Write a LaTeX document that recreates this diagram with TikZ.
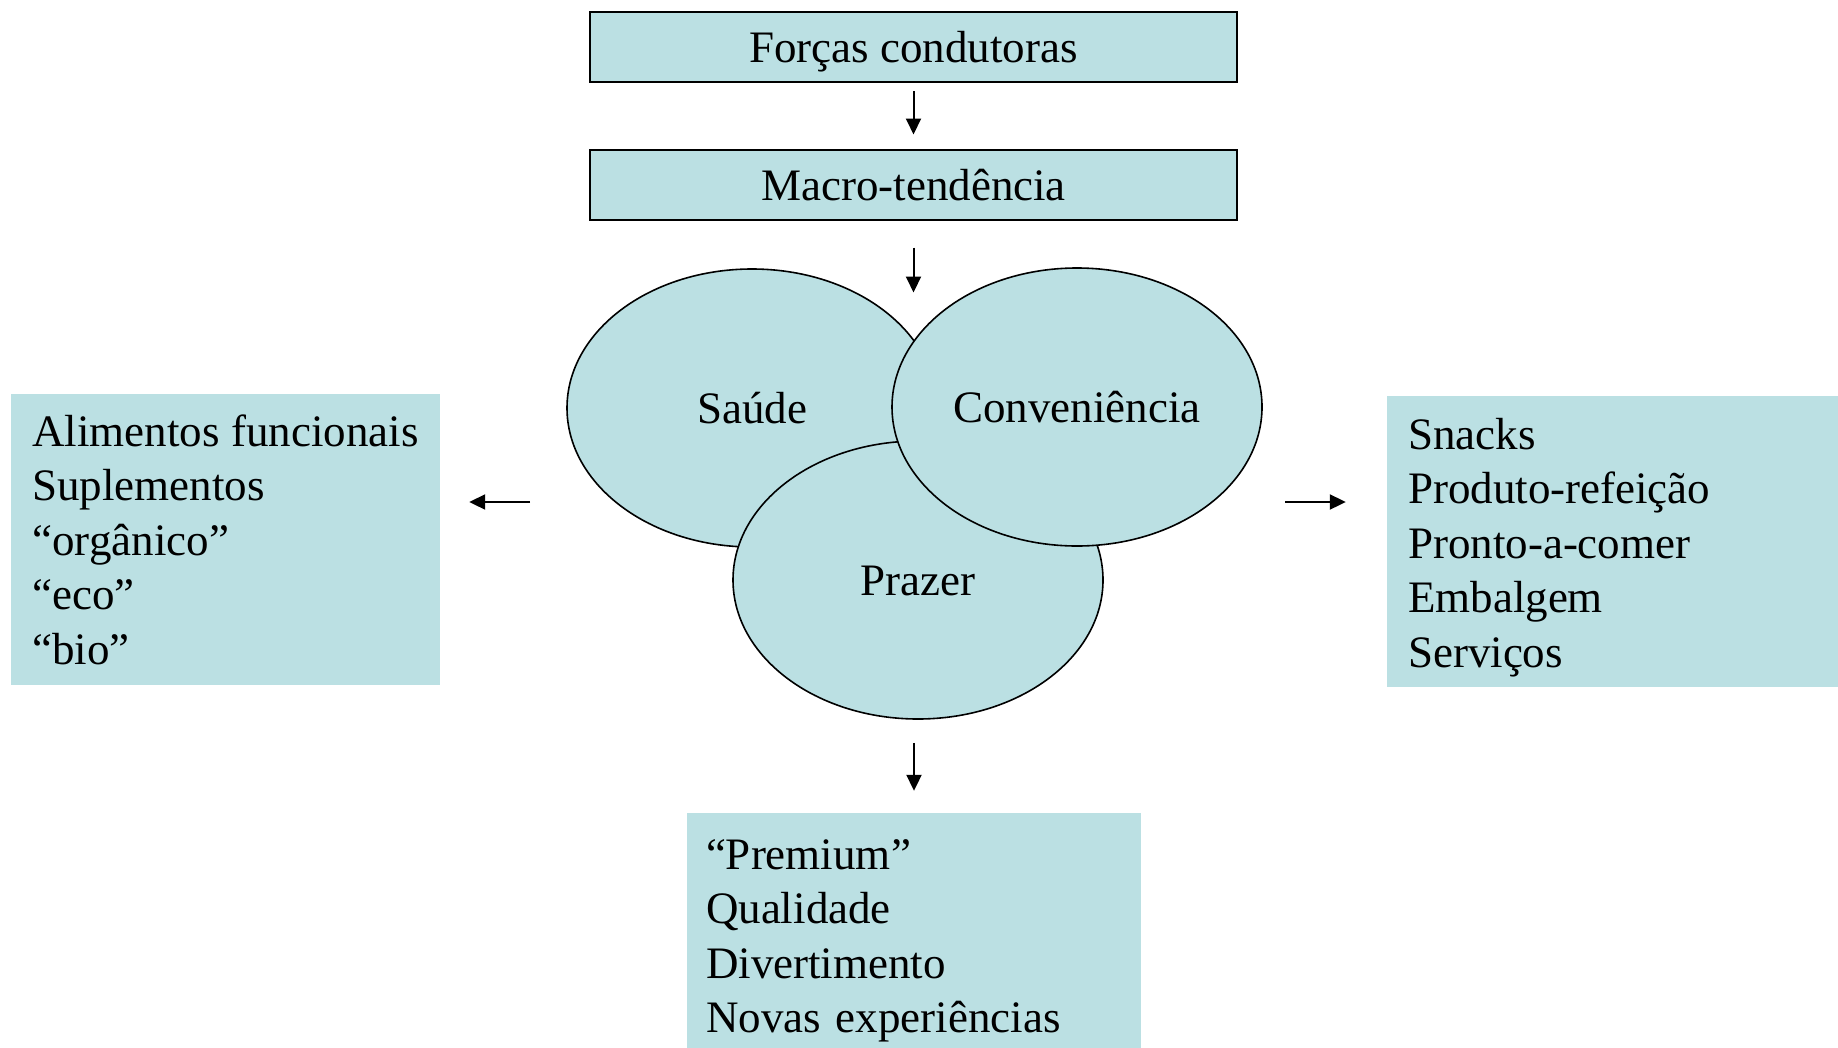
\documentclass[tikz,border=0pt]{standalone}
\usepackage{fontspec}
\setmainfont{Liberation Serif}
\usetikzlibrary{shapes.geometric,arrows.meta,calc}
\definecolor{boxfill}{HTML}{BBE0E3}
\begin{document}
\begin{tikzpicture}[x=1pt,y=-1pt,
  every node/.style={font=\fontsize{45}{54.5}\selectfont},
  hdr/.style={draw=black, line width=2pt, fill=boxfill, minimum width=647pt, minimum height=70pt, inner sep=0pt, text height=31pt, text depth=0pt},
  oval/.style={ellipse, draw=black, line width=1.6pt, fill=boxfill, minimum width=370pt, minimum height=278pt, inner sep=0pt, text height=31pt, text depth=0pt},
  listbox/.style={fill=boxfill, align=left, inner xsep=21pt, inner ysep=0pt},
  arr/.style={-{Triangle[length=16pt,width=15pt]}, line width=2pt}
]
\useasboundingbox (0,0) rectangle (1838,1047);
\node[hdr] (forcas) at (913.5,47) {Forças condutoras};
\node[hdr] (macro) at (913.5,184.5) {Macro-tendência};
\node[oval] (saude) at (752,408) {Saúde};
\node[oval] (prazer) at (918,580) {Prazer};
\node[oval] (conv) at (1077,407) {Conveniência};
\node[listbox, minimum width=429pt, minimum height=291pt] (left) at (225.5,539.5)
  {Alimentos funcionais\\Suplementos\\“orgânico”\\“eco”\\“bio”};
\node[listbox, text width=421pt, minimum height=291pt] (right) at (1618.5,541.5)
  {\rule{0pt}{43pt}Snacks\\Produto-refeição\\Pronto-a-comer\\Embalgem\\Serviços};
\node[listbox, inner xsep=19pt, text width=416pt, minimum height=245pt] (bottom) at (914,935.5)
  {\rule{0pt}{41pt}“Premium”\\Qualidade\\Divertimento\\Novas experiências};
\coordinate (la) at (530,502);
\coordinate (ra) at (1285,502);
\draw[arr] ($(forcas.south)+(0,8)$) -- ($(macro.north)+(0,-14)$);
\draw[arr] ($(macro.south)+(0,27)$) -- ($(macro.south)+(0,72)$);
\draw[arr] ($(bottom.north)+(0,-70)$) -- ($(bottom.north)+(0,-22)$);
\draw[arr] (la) -- ($(la -| left.east)+(29,0)$);
\draw[arr] (ra) -- ($(ra -| right.west)+(-41,0)$);
\end{tikzpicture}
\end{document}
